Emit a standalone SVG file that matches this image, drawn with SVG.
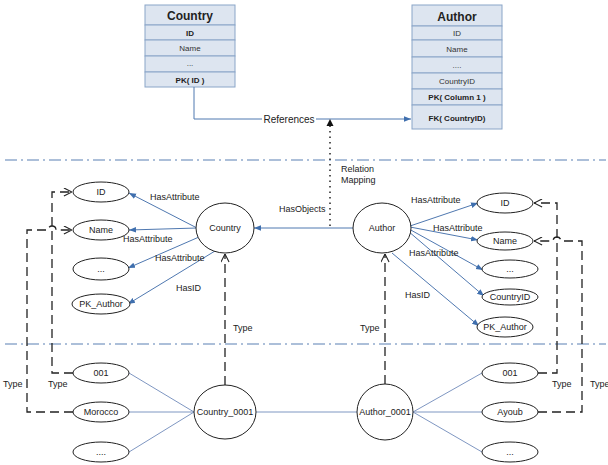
<svg xmlns="http://www.w3.org/2000/svg" width="608" height="465" viewBox="0 0 608 465">
<defs>
<style>
text{font-family:"Liberation Sans",Arial,sans-serif;fill:#222}
.lbl{font-size:9px}
.tbl rect{fill:#dde5f0;stroke:#8aa5c8;stroke-width:1}
.th{font-size:12px;font-weight:bold;text-anchor:middle}
.tr{font-size:8px;text-anchor:middle;fill:#333}
.tb{font-size:8px;font-weight:bold;text-anchor:middle}
.node ellipse{fill:#fff;stroke:#222;stroke-width:1}
.node text{font-size:9px;text-anchor:middle}
.blue{stroke:#4f78b0;stroke-width:1;fill:none}
.thin{stroke:#7f97c2;stroke-width:1;fill:none}
.dash{stroke:#222;stroke-width:1.3;fill:none;stroke-dasharray:9 5}
.dot{stroke:#222;stroke-width:1.5;fill:none;stroke-dasharray:1.5 4}
.sep{stroke:#5b80b4;stroke-width:1.2;fill:none;stroke-dasharray:12 4 2 4}
.bg{fill:#fff}
</style>
<marker id="ab" viewBox="0 0 10 10" refX="10" refY="5" markerWidth="7" markerHeight="7" orient="auto" markerUnits="userSpaceOnUse">
<path d="M0,1 L10,5 L0,9 z" fill="#3f6fae"/>
</marker>
<marker id="ao" viewBox="0 0 10 10" refX="10" refY="5" markerWidth="9" markerHeight="9" orient="auto" markerUnits="userSpaceOnUse">
<path d="M1,0.5 L10,5 L1,9.5" fill="none" stroke="#222" stroke-width="1.2"/>
</marker>
</defs>
<rect width="608" height="465" fill="#fff"/>

<g id="separators">
<line class="sep" x1="5" y1="160" x2="606" y2="160"/>
<line class="sep" x1="5" y1="344" x2="606" y2="344"/>
</g>

<g id="table-country" class="tbl">
<rect x="145" y="5" width="90" height="20"/>
<rect x="145" y="25" width="90" height="15"/>
<rect x="145" y="40" width="90" height="16"/>
<rect x="145" y="56" width="90" height="16"/>
<rect x="145" y="72" width="90" height="15"/>
<text class="th" x="190" y="20">Country</text>
<text class="tb" x="190" y="36">ID</text>
<text class="tr" x="190" y="51">Name</text>
<text class="tr" x="190" y="66">...</text>
<text class="tb" x="190" y="83">PK( ID )</text>
</g>

<g id="table-author" class="tbl">
<rect x="412" y="5" width="90" height="21"/>
<rect x="412" y="26" width="90" height="14"/>
<rect x="412" y="40" width="90" height="17"/>
<rect x="412" y="57" width="90" height="16"/>
<rect x="412" y="73" width="90" height="16"/>
<rect x="412" y="89" width="90" height="16"/>
<rect x="412" y="105" width="90" height="24"/>
<text class="th" x="457" y="21">Author</text>
<text class="tr" x="457" y="36">ID</text>
<text class="tr" x="457" y="52">Name</text>
<text class="tr" x="457" y="68">....</text>
<text class="tr" x="457" y="84">CountryID</text>
<text class="tb" x="457" y="100">PK( Column 1 )</text>
<text class="tb" x="457" y="121">FK( CountryID)</text>
</g>

<g id="connectors">
<path class="blue" d="M194,87 V119 H411" marker-end="url(#ab)"/>
<rect class="bg" x="262" y="112" width="54" height="13"/>
<text x="289" y="123" font-size="10" text-anchor="middle">References</text>
<path class="dot" d="M330,226 V126"/>
<path d="M330,119 L326.5,126 L333.5,126 z" fill="#111"/>
<text class="lbl" x="341" y="172">Relation</text>
<text class="lbl" x="341" y="183">Mapping</text>

<path class="blue" d="M353,228 H254" marker-end="url(#ab)"/>
<text class="lbl" x="279" y="212">HasObjects</text>

<line class="blue" x1="197" y1="228" x2="129" y2="193" marker-end="url(#ab)"/>
<line class="blue" x1="197" y1="228" x2="129" y2="230" marker-end="url(#ab)"/>
<line class="blue" x1="199" y1="237" x2="128" y2="268" marker-end="url(#ab)"/>
<line class="blue" x1="215" y1="251" x2="128" y2="304" marker-end="url(#ab)"/>
<text class="lbl" x="150" y="200">HasAttribute</text>
<text class="lbl" x="123" y="242">HasAttribute</text>
<text class="lbl" x="155" y="261">HasAttribute</text>
<text class="lbl" x="176" y="291">HasID</text>

<line class="blue" x1="410" y1="226" x2="478" y2="203" marker-end="url(#ab)"/>
<line class="blue" x1="410" y1="227" x2="478" y2="240" marker-end="url(#ab)"/>
<line class="blue" x1="409" y1="229" x2="483" y2="270" marker-end="url(#ab)"/>
<line class="blue" x1="408" y1="231" x2="484" y2="296" marker-end="url(#ab)"/>
<line class="blue" x1="392" y1="253" x2="479" y2="326" marker-end="url(#ab)"/>
<text class="lbl" x="411" y="203">HasAttribute</text>
<text class="lbl" x="433" y="231">HasAttribute</text>
<text class="lbl" x="409" y="256">HasAttribute</text>
<text class="lbl" x="405" y="298">HasID</text>

<path class="dash" d="M225,385 V254" marker-end="url(#ao)"/>
<path class="dash" d="M385,384 V254" marker-end="url(#ao)"/>
<text class="lbl" x="233" y="331">Type</text>
<text class="lbl" x="360" y="331">Type</text>

<path class="dash" d="M73,373 H52 V192 H72" marker-end="url(#ao)"/>
<path class="dash" d="M73,412 H27 V230 H48 A4,4 0 0 1 56,230 H72" marker-end="url(#ao)"/>
<text class="lbl" x="3" y="387">Type</text>
<text class="lbl" x="48" y="387">Type</text>

<path class="dash" d="M538,373 H557 V203 H534" marker-end="url(#ao)"/>
<path class="dash" d="M538,412 H582 V241 H561 A4,4 0 0 0 553,241 H534" marker-end="url(#ao)"/>
<text class="lbl" x="552" y="387">Type</text>
<text class="lbl" x="590" y="387">Type</text>

<line class="thin" x1="129" y1="373" x2="194" y2="412"/>
<line class="thin" x1="129" y1="412" x2="194" y2="412"/>
<line class="thin" x1="129" y1="452" x2="194" y2="412"/>
<line class="thin" x1="256" y1="412" x2="357" y2="412"/>
<line class="thin" x1="413" y1="412" x2="482" y2="373"/>
<line class="thin" x1="413" y1="412" x2="482" y2="412"/>
<line class="thin" x1="413" y1="412" x2="482" y2="452"/>
</g>

<g id="n-country" class="node"><ellipse cx="225" cy="228" rx="29" ry="25"/><text x="225" y="231">Country</text></g>
<g id="n-author" class="node"><ellipse cx="382" cy="228" rx="29" ry="25"/><text x="382" y="231">Author</text></g>

<g id="n-l-id" class="node"><ellipse cx="101" cy="192" rx="28" ry="10"/><text x="101" y="195">ID</text></g>
<g id="n-l-name" class="node"><ellipse cx="101" cy="230" rx="28" ry="10"/><text x="101" y="233">Name</text></g>
<g id="n-l-etc" class="node"><ellipse cx="101" cy="269" rx="28" ry="11"/><text x="101" y="272">...</text></g>
<g id="n-l-pk" class="node"><ellipse cx="101" cy="304" rx="29" ry="10"/><text x="101" y="307">PK_Author</text></g>

<g id="n-r-id" class="node"><ellipse cx="505" cy="203" rx="28" ry="10"/><text x="505" y="206">ID</text></g>
<g id="n-r-name" class="node"><ellipse cx="505" cy="241" rx="28" ry="9"/><text x="505" y="244">Name</text></g>
<g id="n-r-etc" class="node"><ellipse cx="510" cy="269" rx="28" ry="9"/><text x="510" y="272">...</text></g>
<g id="n-r-cid" class="node"><ellipse cx="510" cy="297" rx="28" ry="8"/><text x="510" y="300">CountryID</text></g>
<g id="n-r-pk" class="node"><ellipse cx="505" cy="327" rx="28" ry="10"/><text x="505" y="330">PK_Author</text></g>

<g id="n-country0001" class="node"><ellipse cx="225" cy="412" rx="31" ry="27"/><text x="225" y="415">Country_0001</text></g>
<g id="n-author0001" class="node"><ellipse cx="385" cy="412" rx="28" ry="28"/><text x="385" y="415">Author_0001</text></g>

<g id="n-b-001" class="node"><ellipse cx="101" cy="373" rx="28" ry="10"/><text x="101" y="376">001</text></g>
<g id="n-b-morocco" class="node"><ellipse cx="101" cy="412" rx="28" ry="10"/><text x="101" y="415">Morocco</text></g>
<g id="n-b-etc" class="node"><ellipse cx="101" cy="452" rx="28" ry="10"/><text x="101" y="455">....</text></g>

<g id="n-b-r001" class="node"><ellipse cx="510" cy="373" rx="28" ry="10"/><text x="510" y="376">001</text></g>
<g id="n-b-ayoub" class="node"><ellipse cx="510" cy="412" rx="28" ry="10"/><text x="510" y="415">Ayoub</text></g>
<g id="n-b-retc" class="node"><ellipse cx="510" cy="452" rx="28" ry="10"/><text x="510" y="455">...</text></g>
</svg>
